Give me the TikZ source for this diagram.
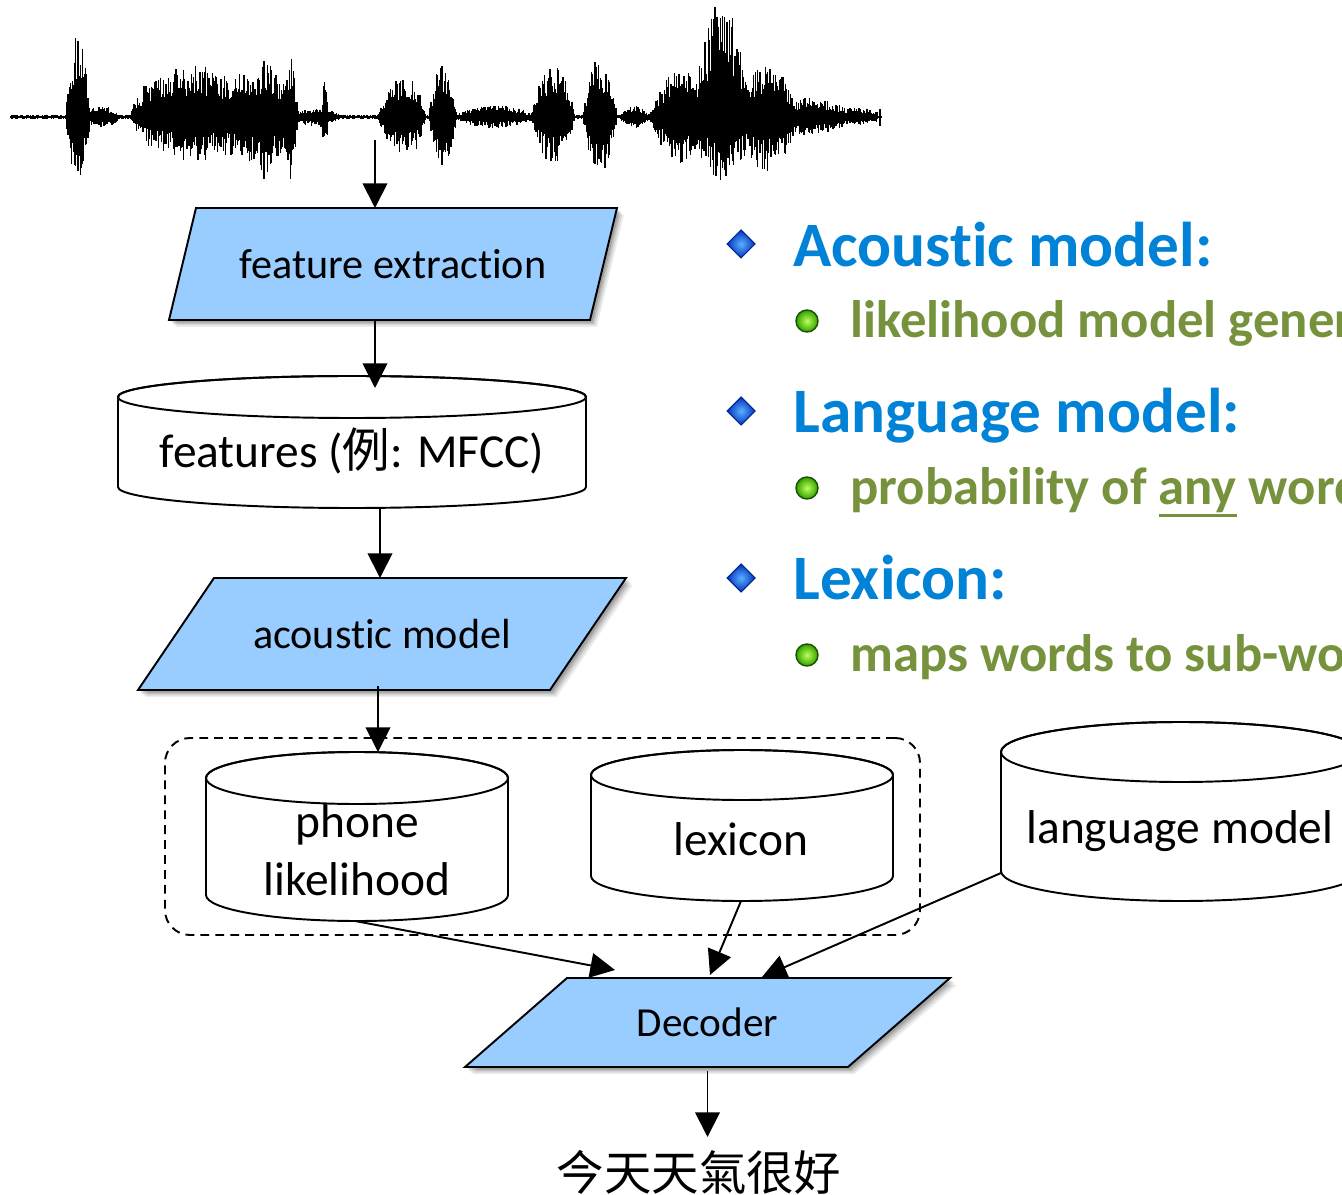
\documentclass[tikz,border=0pt]{standalone}
\usepackage{fontspec}
\setmainfont{Carlito}[Ligatures={NoCommon}]
\newfontfamily\cjk{Noto Sans CJK TC}
\usetikzlibrary{arrows.meta,calc}
\pgfdeclarelayer{bg}
\pgfsetlayers{bg,main}
\definecolor{boxblue}{RGB}{153,204,255}
\definecolor{headblue}{RGB}{0,130,214}
\definecolor{subgreen}{RGB}{118,146,60}
\definecolor{gemlight}{RGB}{90,175,255}
\definecolor{gemdark}{RGB}{0,50,190}
\definecolor{balllight}{RGB}{190,255,90}
\definecolor{balldark}{RGB}{50,160,0}
\def\pxu{0.02cm}

\tikzset{
  arr/.style={line width=1.1pt,-{Triangle[length=14pt,width=14pt]}},
  box/.style={inner sep=0pt,outer sep=0pt},
  parafill/.style={fill=boxblue,draw=black,line width=1.1pt,line join=miter},
  cylline/.style={draw=black,line width=1.1pt,fill=white},
  lbl/.style={inner sep=0pt,anchor=base,font=\fontsize{27}{33}\selectfont},
  head/.style={anchor=base west,inner sep=0pt,text=headblue,font=\bfseries\fontsize{36}{40}\selectfont},
  sub/.style={anchor=base west,inner sep=0pt,text=subgreen,font=\bfseries\fontsize{30}{34}\selectfont},
  gem/.style={inner color=gemlight,outer color=gemdark,draw=gemdark!70!black,line width=0.6pt},
  ball/.style={inner color=balllight,outer color=balldark,draw=balldark!50!black,line width=0.8pt},
}

% parallelogram drawn inside the bounding box of a node, #2 = slant in px
\newcommand\parashape[3]{%
  \path[#3] ($(#1.north west)+(#2,0)$) -- (#1.north east)
    -- ($(#1.south east)+(-#2,0)$) -- (#1.south west) -- cycle;}
\newcommand\parawithshadow[2]{%
  \foreach \s/\o in {7/0.07,5.5/0.09,4/0.12,2.5/0.15}{%
    \begin{scope}[transform canvas={shift={(\s,\s)}}]
      \parashape{#1}{#2}{fill=black,opacity=\o}
    \end{scope}}
  \parashape{#1}{#2}{parafill}}
% cylinder inside the bounding box of a node: #2 = x radius, #3 = y radius (px)
\newcommand\cylshape[3]{%
  \path[cylline] ($(#1.north west)+(0,#3)$) -- ($(#1.south west)+(0,-#3)$)
    arc[start angle=180,end angle=360,x radius=#2*\pxu,y radius=#3*\pxu]
    -- ($(#1.north east)+(0,#3)$)
    arc[start angle=0,end angle=180,x radius=#2*\pxu,y radius=#3*\pxu] -- cycle;
  \draw[line width=1.1pt] ($(#1.north)+(0,#3)$) ellipse[x radius=#2*\pxu,y radius=#3*\pxu];}

\newcommand\ulany[1]{\setbox0\hbox{#1}\rlap{\rule[-\dimexpr\dp0+2.2pt\relax]{\wd0}{1.7pt}}\box0{}}

\begin{document}
\begin{tikzpicture}[x=0.02cm,y=-0.02cm,
  declare function={
    bmp(\p,\c,\w)=1-min(abs(\p-\c)/\w,1)^2;
    wu(\p)=2+72*bmp(\p,78,12)+8*bmp(\p,100,20)+35*bmp(\p,160,30)+45*bmp(\p,200,30)
      +38*bmp(\p,245,30)+35*bmp(\p,275,22)+40*bmp(\p,291,7)+25*bmp(\p,325,4)
      +6*bmp(\p,315,25)+32*bmp(\p,400,22)+15*bmp(\p,418,8)+45*bmp(\p,443,14)
      +8*bmp(\p,495,40)+44*bmp(\p,553,22)+52*bmp(\p,600,17)+8*bmp(\p,635,15)
      +40*bmp(\p,680,30)+105*bmp(\p,722,25)+45*bmp(\p,765,30)+15*bmp(\p,810,35)
      +6*bmp(\p,855,30);
    wd(\p)=2+58*bmp(\p,78,12)+8*bmp(\p,100,20)+28*bmp(\p,160,30)+38*bmp(\p,200,30)
      +40*bmp(\p,245,30)+38*bmp(\p,275,22)+35*bmp(\p,291,7)+20*bmp(\p,325,4)
      +6*bmp(\p,315,25)+30*bmp(\p,400,22)+15*bmp(\p,418,8)+40*bmp(\p,443,14)
      +8*bmp(\p,495,40)+40*bmp(\p,553,22)+50*bmp(\p,600,17)+8*bmp(\p,635,15)
      +38*bmp(\p,680,30)+55*bmp(\p,722,25)+45*bmp(\p,765,30)+15*bmp(\p,810,35)
      +6*bmp(\p,855,30);
  }]
\useasboundingbox (0,0) rectangle (1342,1195);
\clip (0,0) rectangle (1342,1195);

% speech waveform
\pgfmathsetseed{11}
\draw[line width=1.4pt] (10,117) -- (882,117);
\draw[line width=1pt] (880,109) -- (880,126);
\foreach \xx in {12,13.1,...,878}{
  \draw[line width=0.7pt] (\xx,{117-1.15*wu(\xx)*(0.4+0.6*rnd)}) -- (\xx,{117+1.15*wd(\xx)*(0.4+0.6*rnd)});
}
\coordinate (wv) at (375,140);

% flow boxes
\node[box,minimum width=448*\pxu,minimum height=112*\pxu,font=\fontsize{24}{28}\selectfont] (fe) at (393,264) {feature extraction};
\node[box,minimum width=468*\pxu,minimum height=132*\pxu] (feat) at (352,442) {};
\node[lbl] (featlbl) at (352,468) {features ({\cjk 例}: MFCC)};
\node[box,minimum width=488*\pxu,minimum height=112*\pxu,font=\fontsize{24}{28}\selectfont] (am) at (382,634) {acoustic model};
\node[box,minimum width=302*\pxu,minimum height=169*\pxu] (phone) at (357,836.5) {};
\node[lbl,align=center] (phonelbl) at (357,895) {phone\\likelihood};
\node[box,minimum width=302*\pxu,minimum height=151*\pxu] (lex) at (742,825.5) {};
\node[lbl] (lexlbl) at (741,855) {lexicon};
\node[box,minimum width=360*\pxu,minimum height=179*\pxu] (lm) at (1181,811.5) {};
\node[lbl] (lmlbl) at (1180,843) {language model};
\node[box,minimum width=485*\pxu,minimum height=89*\pxu,font=\fontsize{23.5}{28}\selectfont] (dec) at (707.5,1022.5) {Decoder};
\node[inner sep=0pt,font=\cjk\fontsize{27}{32}\selectfont] (out) at (699,1172) {今天天氣很好};

\begin{pgfonlayer}{bg}
  \node[draw,line width=1.1pt,dash pattern=on 5pt off 3.5pt,rounded corners=0.5cm,
        minimum width=755*\pxu,minimum height=197*\pxu] (grp) at (542.5,836.5) {};
  \parawithshadow{fe}{27}
  \parawithshadow{am}{76}
  \parawithshadow{dec}{102}
  \cylshape{feat}{234}{21}
  \cylshape{phone}{151}{26}
  \cylshape{lex}{151}{25}
  \cylshape{lm}{180}{30}
\end{pgfonlayer}

% connectors
\draw[arr] (wv) -- (wv |- fe.north);
\draw[arr] ($(fe.south)+(-18,0)$) -- ($(feat.north)+(23,12)$);
\draw[arr] ($(feat.south)+(28,0)$) -- ($(am.north)+(-2,0)$);
\draw[arr] ($(am.south)+(-4,-4)$) -- ($(phone.north)+(21,0)$);
\draw[arr] ($(phone.south)+(-2,0)$) -- ($(dec.north west)+(150,-8)$);
\draw[arr] ($(lex.south)+(-1,0)$) -- ($(dec.north west)+(245,-3)$);
\draw[arr] ($(lm.south west)+(0,-28)$) -- ($(dec.north west)+(297,-1)$);
\draw[arr] ($(dec.south)+(0,4)$) -- ($(dec.south)+(0,70)$);

% bullet list
\foreach \yy in {244,411,578}{
  \shade[gem] (741,\yy-14) -- (755,\yy) -- (741,\yy+14) -- (727,\yy) -- cycle;
}
\foreach \yy in {321,488,655}{
  \shade[ball] (807,\yy) circle[radius=11*\pxu];
}
\node[head] (h1) at (793,267) {Acoustic model:};
\node[sub] (s1) at (850,338) {likelihood model generating features};
\node[head] (h2) at (793,433) {Language model:};
\node[sub] (s2) at (850,505) {probability of \ulany{any} word sequence};
\node[head] (h3) at (793,600) {Lexicon:};
\node[sub] (s3) at (850,672) {maps words to sub-word units};
\end{tikzpicture}
\end{document}
